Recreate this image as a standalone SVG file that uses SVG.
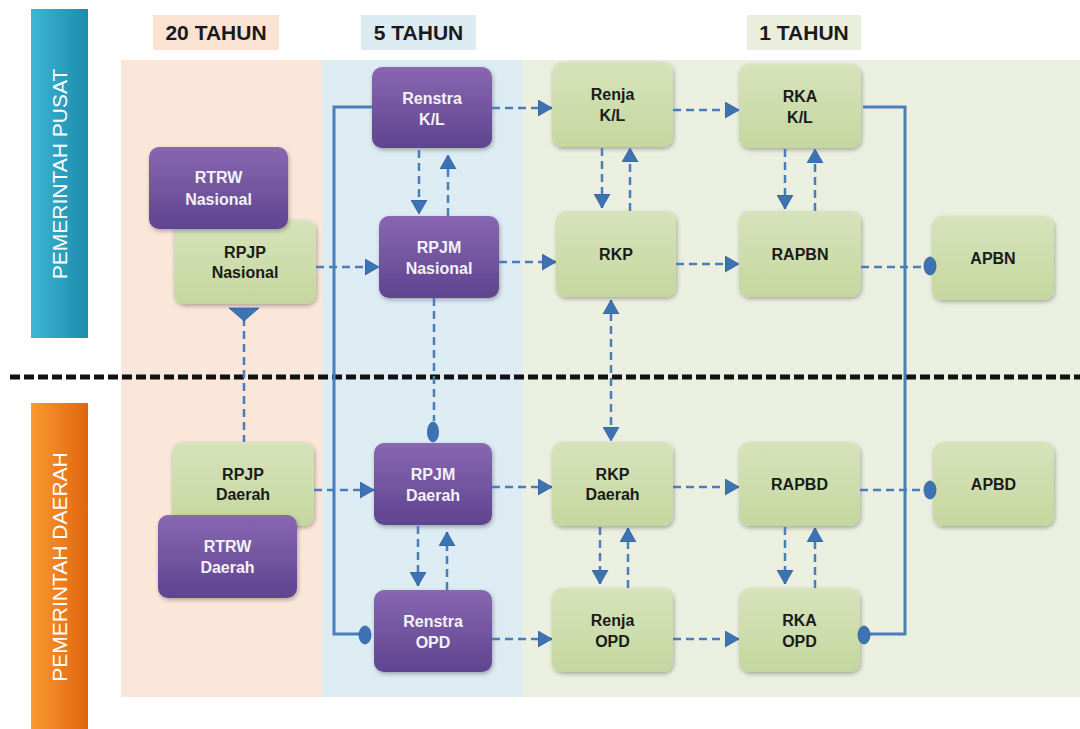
<svg xmlns="http://www.w3.org/2000/svg" width="1080" height="729" viewBox="0 0 1080 729">
<style>
.lbl{font-family:"Liberation Sans",Arial,sans-serif;font-weight:bold;font-size:16px;text-anchor:middle}
.gt{fill:#1a1a1a}
.pt{fill:#f4f2f7}
.hdr{font-family:"Liberation Sans",Arial,sans-serif;font-weight:bold;font-size:21px;text-anchor:middle;fill:#1a1a1a}
.side{font-family:"Liberation Sans",Arial,sans-serif;font-size:21px;text-anchor:middle;fill:#ffffff}
.g{fill:url(#gG);filter:url(#sh)}
.p{fill:url(#gP);filter:url(#sh)}
.d{fill:none;stroke:#4a7ebb;stroke-width:2.5;stroke-dasharray:8 5}
.s{fill:none;stroke:#4a7ebb;stroke-width:3}
.ov{fill:#3d72b4;stroke:#2f5f9a;stroke-width:0.8}
</style>
<defs>
<linearGradient id="gG" x1="0" y1="0" x2="0" y2="1"><stop offset="0" stop-color="#d6e3bb"/><stop offset="1" stop-color="#c5d79f"/></linearGradient>
<linearGradient id="gP" x1="0" y1="0" x2="0" y2="1"><stop offset="0" stop-color="#8867b0"/><stop offset="1" stop-color="#5f4490"/></linearGradient>
<linearGradient id="gT" x1="0" y1="0" x2="1" y2="0"><stop offset="0" stop-color="#3db6d4"/><stop offset="1" stop-color="#1c8cab"/></linearGradient>
<linearGradient id="gO" x1="0" y1="0" x2="1" y2="0"><stop offset="0" stop-color="#fa9a30"/><stop offset="1" stop-color="#e0650f"/></linearGradient>
<filter id="sh" x="-10%" y="-10%" width="125%" height="130%"><feDropShadow dx="1" dy="2" stdDeviation="2" flood-color="#000" flood-opacity="0.3"/></filter>
<marker id="arr" markerUnits="userSpaceOnUse" markerWidth="15" markerHeight="17" refX="14" refY="8.5" orient="auto-start-reverse" viewBox="0 0 15 17"><path d="M0,0.5 L14,8.5 L0,16.5 z" fill="#3d72b4" stroke="#2f5f9a" stroke-width="0.8"/></marker>
</defs>

<!-- background bands -->
<rect x="121" y="60" width="201" height="637" fill="#fbe6da"/>
<rect x="322" y="60" width="200" height="637" fill="#ddebf2"/>
<rect x="522" y="60" width="558" height="637" fill="#ebefdf"/>

<!-- header labels -->
<g id="h20"><rect x="153" y="15" width="126" height="35" fill="#fbe3d4"/><text class="hdr" x="216" y="40">20 TAHUN</text></g>
<g id="h5"><rect x="361" y="15" width="115" height="35" fill="#dcebf2"/><text class="hdr" x="418.5" y="40">5 TAHUN</text></g>
<g id="h1"><rect x="747" y="15" width="114" height="35" fill="#eaeedd"/><text class="hdr" x="804" y="40">1 TAHUN</text></g>

<!-- side bars -->
<g id="pusat"><rect x="31" y="9" width="57" height="329" fill="url(#gT)"/><text class="side" transform="translate(67,174) rotate(-90)">PEMERINTAH PUSAT</text></g>
<g id="daerah"><rect x="31" y="403" width="57" height="326" fill="url(#gO)"/><text class="side" transform="translate(67,567) rotate(-90)">PEMERINTAH DAERAH</text></g>

<!-- divider -->
<line x1="10" y1="377" x2="1080" y2="377" stroke="#111" stroke-width="5" stroke-dasharray="10 4"/>

<!-- nodes -->
<g id="rpjp_nas"><rect class="g" x="174" y="220" width="142" height="84" rx="10"/><text class="lbl gt" x="245" y="258">RPJP</text><text class="lbl gt" x="245" y="278">Nasional</text></g>
<g id="rtrw_nas"><rect class="p" x="149" y="147" width="139" height="82" rx="10"/><text class="lbl pt" x="218.5" y="183">RTRW</text><text class="lbl pt" x="218.5" y="205">Nasional</text></g>
<g id="renstra_kl"><rect class="p" x="372" y="67" width="120" height="81" rx="10"/><text class="lbl pt" x="432" y="104">Renstra</text><text class="lbl pt" x="432" y="125">K/L</text></g>
<g id="renja_kl"><rect class="g" x="552" y="62" width="121" height="85" rx="10"/><text class="lbl gt" x="612.5" y="100">Renja</text><text class="lbl gt" x="612.5" y="121">K/L</text></g>
<g id="rka_kl"><rect class="g" x="739" y="64" width="122" height="84" rx="10"/><text class="lbl gt" x="800" y="102">RKA</text><text class="lbl gt" x="800" y="123">K/L</text></g>
<g id="rpjm_nas"><rect class="p" x="379" y="216" width="120" height="82" rx="10"/><text class="lbl pt" x="439" y="253">RPJM</text><text class="lbl pt" x="439" y="274">Nasional</text></g>
<g id="rkp"><rect class="g" x="556" y="211" width="120" height="86" rx="10"/><text class="lbl gt" x="616" y="260">RKP</text></g>
<g id="rapbn"><rect class="g" x="739" y="211" width="122" height="86" rx="10"/><text class="lbl gt" x="800" y="260">RAPBN</text></g>
<g id="apbn"><rect class="g" x="932" y="216" width="122" height="84" rx="10"/><text class="lbl gt" x="993" y="264">APBN</text></g>

<g id="rpjp_dae"><rect class="g" x="172" y="442" width="142" height="84" rx="10"/><text class="lbl gt" x="243" y="480">RPJP</text><text class="lbl gt" x="243" y="500">Daerah</text></g>
<g id="rtrw_dae"><rect class="p" x="158" y="515" width="139" height="83" rx="10"/><text class="lbl pt" x="227.5" y="552">RTRW</text><text class="lbl pt" x="227.5" y="573">Daerah</text></g>
<g id="rpjm_dae"><rect class="p" x="374" y="443" width="118" height="82" rx="10"/><text class="lbl pt" x="433" y="480">RPJM</text><text class="lbl pt" x="433" y="501">Daerah</text></g>
<g id="rkp_dae"><rect class="g" x="552" y="442" width="121" height="84" rx="10"/><text class="lbl gt" x="612.5" y="480">RKP</text><text class="lbl gt" x="612.5" y="500">Daerah</text></g>
<g id="rapbd"><rect class="g" x="739" y="442" width="121" height="84" rx="10"/><text class="lbl gt" x="799.5" y="490">RAPBD</text></g>
<g id="apbd"><rect class="g" x="933" y="442" width="121" height="84" rx="10"/><text class="lbl gt" x="993.5" y="490">APBD</text></g>
<g id="renstra_opd"><rect class="p" x="374" y="590" width="118" height="82" rx="10"/><text class="lbl pt" x="433" y="627">Renstra</text><text class="lbl pt" x="433" y="648">OPD</text></g>
<g id="renja_opd"><rect class="g" x="552" y="588" width="121" height="84" rx="10"/><text class="lbl gt" x="612.5" y="626">Renja</text><text class="lbl gt" x="612.5" y="647">OPD</text></g>
<g id="rka_opd"><rect class="g" x="739" y="588" width="121" height="84" rx="10"/><text class="lbl gt" x="799.5" y="626">RKA</text><text class="lbl gt" x="799.5" y="647">OPD</text></g>

<!-- connectors -->
<g id="connectors">
<path class="s" d="M372,107 H334 V634 H359"/>
<ellipse class="ov" cx="365" cy="635" rx="6" ry="9"/>
<path class="s" d="M863,107 H905 V634 H870"/>
<ellipse class="ov" cx="864" cy="635" rx="6" ry="9"/>

<path class="d" d="M492,108 H552" marker-end="url(#arr)"/>
<path class="d" d="M673,110 H739" marker-end="url(#arr)"/>
<path class="d" d="M316,267 H379" marker-end="url(#arr)"/>
<path class="d" d="M499,262 H556" marker-end="url(#arr)"/>
<path class="d" d="M676,264 H739" marker-end="url(#arr)"/>
<path class="d" d="M861,267 H924"/>
<ellipse class="ov" cx="930" cy="266" rx="6" ry="9"/>
<path class="d" d="M314,490 H374" marker-end="url(#arr)"/>
<path class="d" d="M492,487 H552" marker-end="url(#arr)"/>
<path class="d" d="M673,487 H739" marker-end="url(#arr)"/>
<path class="d" d="M860,490 H924"/>
<ellipse class="ov" cx="930" cy="490" rx="6" ry="9"/>
<path class="d" d="M492,639 H552" marker-end="url(#arr)"/>
<path class="d" d="M673,639 H739" marker-end="url(#arr)"/>

<path class="d" d="M419,150 V214" marker-end="url(#arr)"/>
<path class="d" d="M448,216 V155" marker-end="url(#arr)"/>
<path class="d" d="M602,148 V208" marker-end="url(#arr)"/>
<path class="d" d="M630,211 V148" marker-end="url(#arr)"/>
<path class="d" d="M785,149 V209" marker-end="url(#arr)"/>
<path class="d" d="M815,211 V149" marker-end="url(#arr)"/>
<path class="d" d="M611,300 V441" marker-start="url(#arr)" marker-end="url(#arr)"/>
<path class="d" d="M434,298 V421"/>
<ellipse class="ov" cx="433" cy="432" rx="5.5" ry="10"/>
<path class="d" d="M244,318 V442"/>
<path d="M229,308 H259 L244,321 z" fill="#3d72b4" stroke="#2f5f9a" stroke-width="0.8"/>
<path class="d" d="M418,526 V586" marker-end="url(#arr)"/>
<path class="d" d="M447,590 V532" marker-end="url(#arr)"/>
<path class="d" d="M600,527 V584" marker-end="url(#arr)"/>
<path class="d" d="M628,588 V528" marker-end="url(#arr)"/>
<path class="d" d="M785,527 V584" marker-end="url(#arr)"/>
<path class="d" d="M815,588 V528" marker-end="url(#arr)"/>
</g>
</svg>
